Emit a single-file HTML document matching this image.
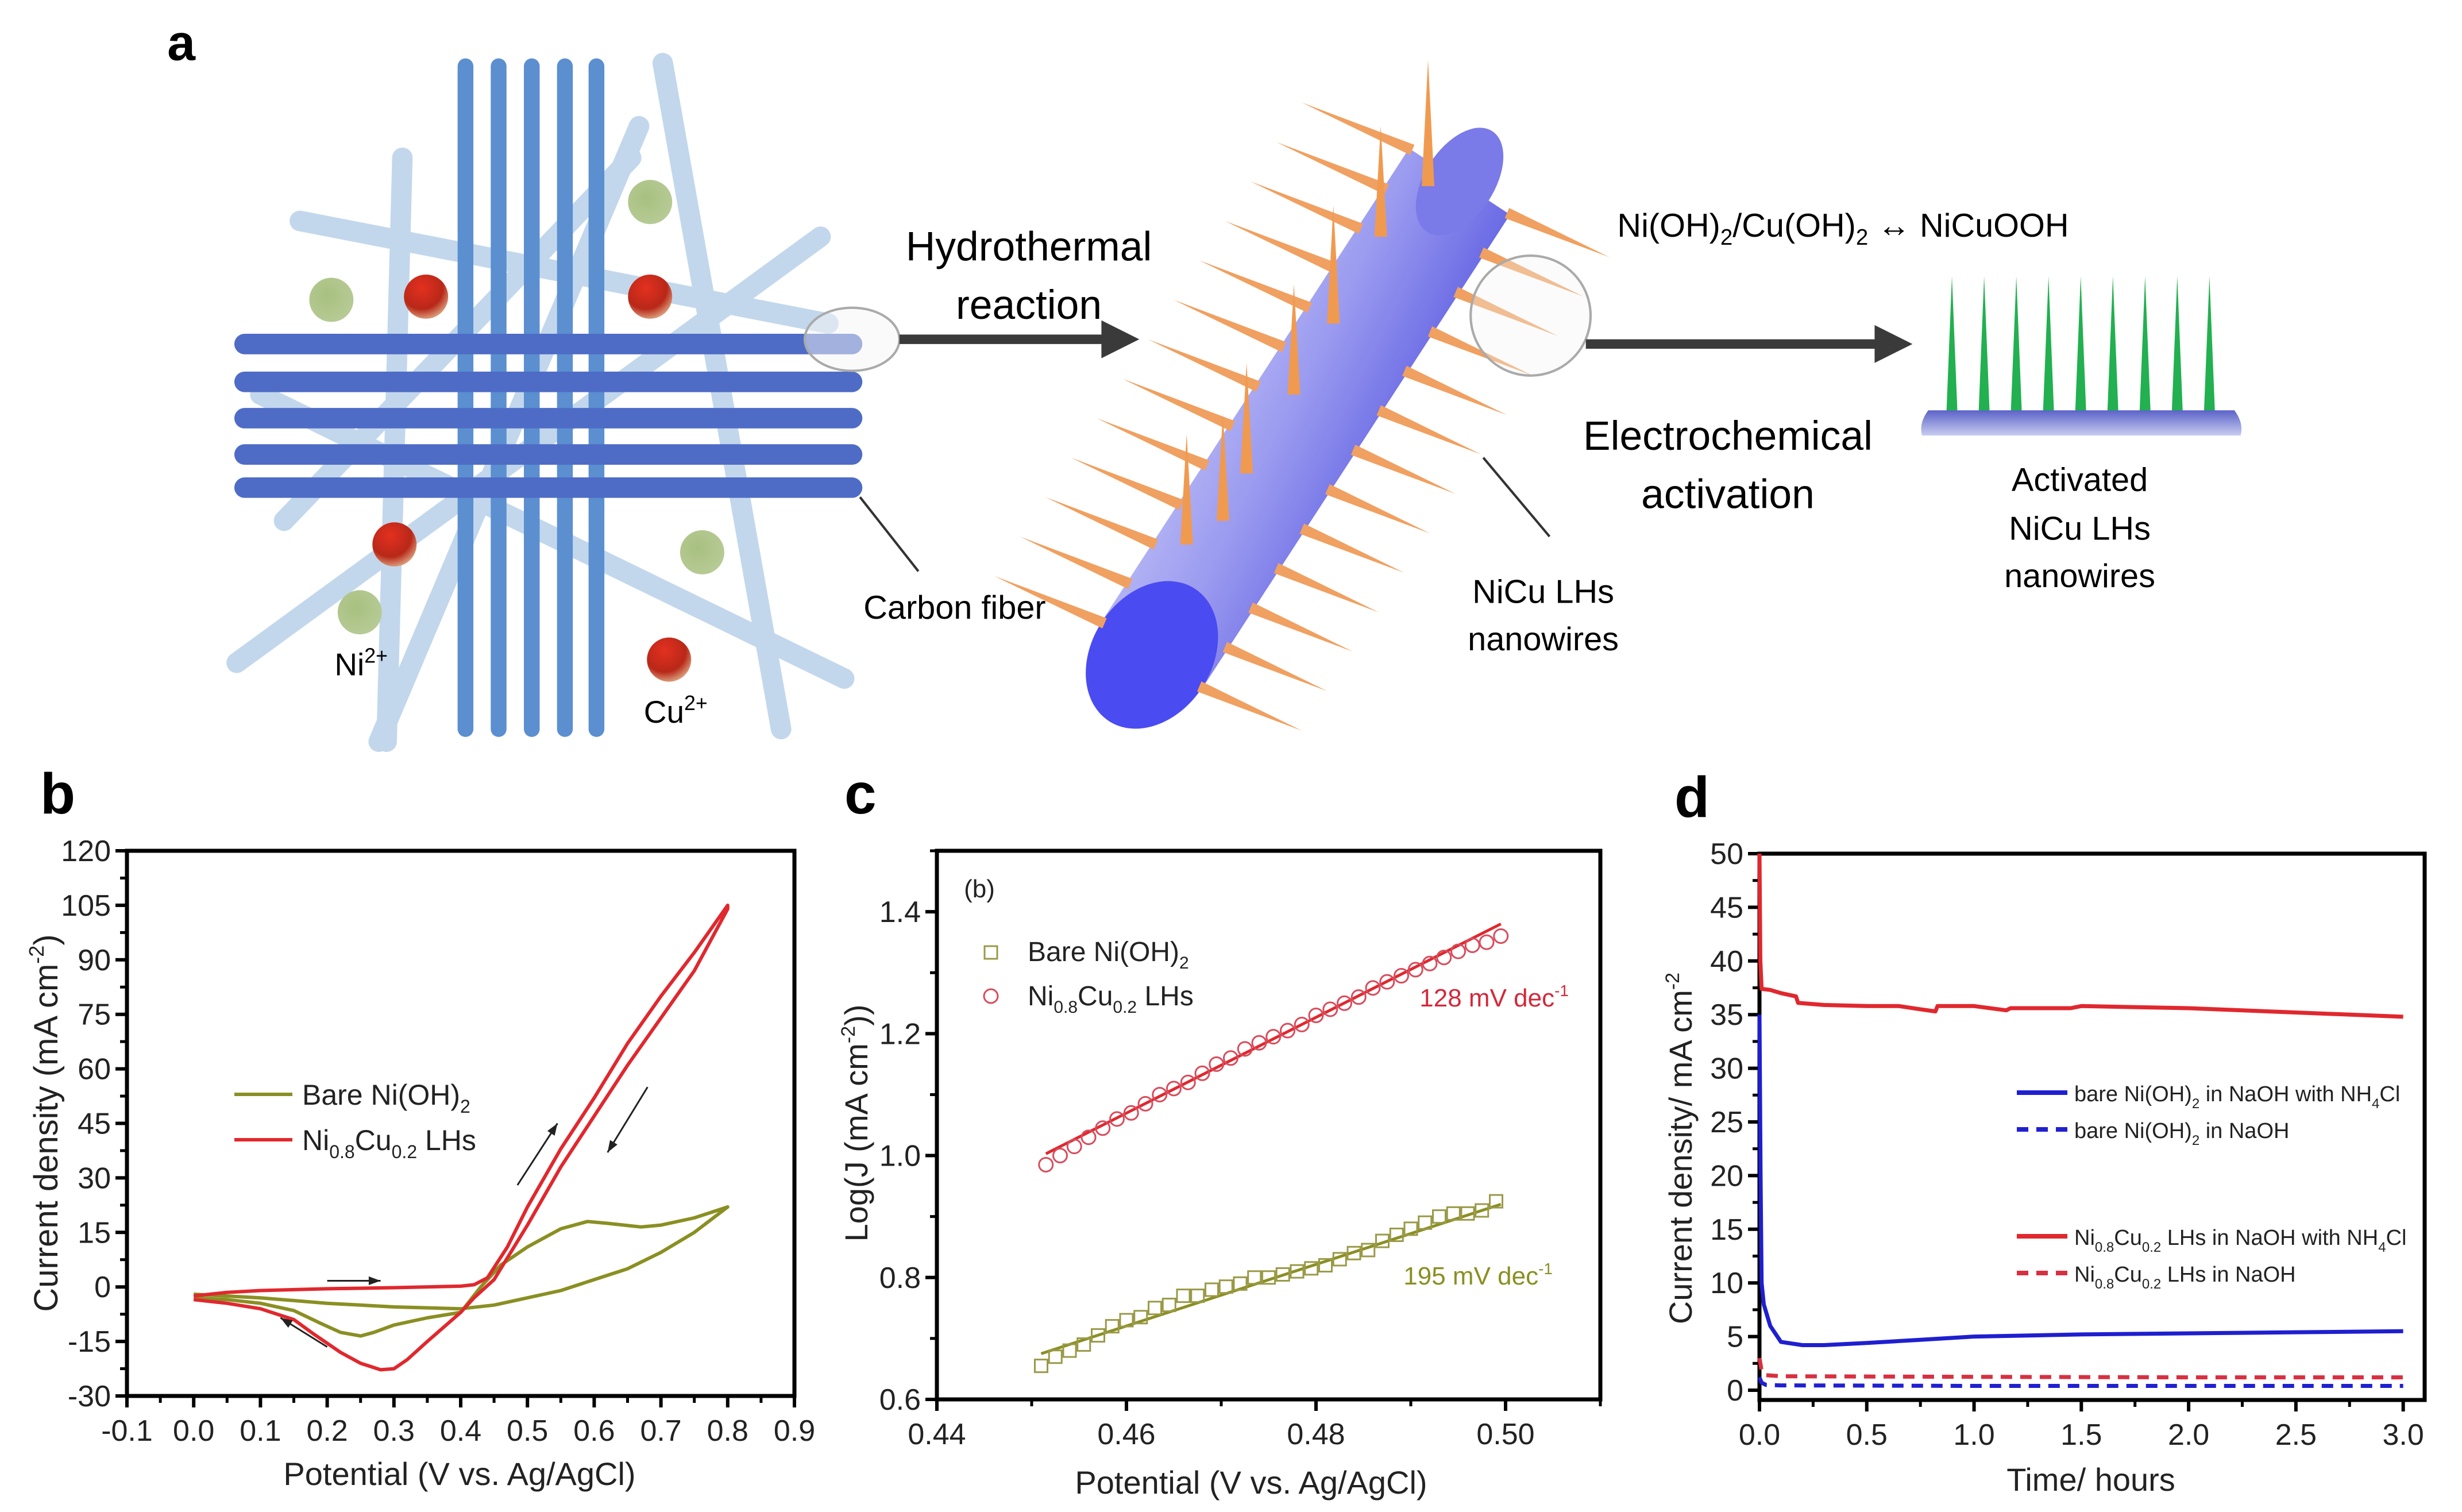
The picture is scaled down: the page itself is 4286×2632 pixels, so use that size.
<!DOCTYPE html>
<html><head><meta charset="utf-8"><style>
html,body{margin:0;padding:0;background:#fff;}
svg{display:block;font-family:"Liberation Sans",Arial,sans-serif;}
</style></head><body>
<svg id="fig" width="4286" height="2632" viewBox="0 0 4286 2632" xmlns="http://www.w3.org/2000/svg">
<defs>
<linearGradient id="cylGrad" x1="0" y1="0" x2="1" y2="0.65">
<stop offset="0" stop-color="#f4f4ff"/><stop offset="0.55" stop-color="#9a9af0"/><stop offset="1" stop-color="#3434d8"/>
</linearGradient>
<linearGradient id="baseGrad" x1="0" y1="0" x2="0" y2="1">
<stop offset="0" stop-color="#5b63c8"/><stop offset="1" stop-color="#c8ccf0"/>
</linearGradient>
<radialGradient id="redBall" cx="0.4" cy="0.3" r="0.8"><stop offset="0" stop-color="#e43020"/><stop offset="0.6" stop-color="#b82818"/><stop offset="1" stop-color="#e8c8a0"/></radialGradient>
<radialGradient id="greenBall" cx="0.4" cy="0.4" r="0.7"><stop offset="0" stop-color="#a8c080"/><stop offset="1" stop-color="#b8cc98"/></radialGradient>
</defs>
<rect width="4286" height="2632" fill="#fff"/>

<!-- PANEL A (display coords scaled) -->
<g id="panelA" transform="scale(2.747)">
<text x="106" y="38" font-size="32" font-weight="bold">a</text>
<g stroke="#bcd3ea" stroke-width="13" stroke-linecap="round" opacity="0.9">
<line x1="190" y1="140" x2="525" y2="205"/>
<line x1="255" y1="100" x2="245" y2="470"/>
<line x1="420" y1="40" x2="495" y2="462"/>
<line x1="150" y1="420" x2="520" y2="150"/>
<line x1="165" y1="250" x2="535" y2="430"/>
<line x1="240" y1="470" x2="405" y2="80"/>
<line x1="180" y1="330" x2="400" y2="100"/>
</g>
<g stroke="#5b8fd0" stroke-width="10" stroke-linecap="round">
<line x1="295" y1="42" x2="295" y2="462"/><line x1="316" y1="42" x2="316" y2="462"/><line x1="337" y1="42" x2="337" y2="462"/><line x1="358" y1="42" x2="358" y2="462"/><line x1="378" y1="42" x2="378" y2="462"/>
</g>
<g stroke="#4e6cc6" stroke-width="13" stroke-linecap="round">
<line x1="155" y1="218" x2="540" y2="218"/><line x1="155" y1="242" x2="540" y2="242"/><line x1="155" y1="265" x2="540" y2="265"/><line x1="155" y1="288" x2="540" y2="288"/><line x1="155" y1="309" x2="540" y2="309"/>
</g>
<g>
<circle cx="412" cy="128" r="14" fill="url(#greenBall)"/><circle cx="210" cy="190" r="14" fill="url(#greenBall)"/><circle cx="445" cy="350" r="14" fill="url(#greenBall)"/><circle cx="228" cy="388" r="14" fill="url(#greenBall)"/>
<circle cx="270" cy="188" r="14" fill="url(#redBall)"/><circle cx="412" cy="188" r="14" fill="url(#redBall)"/><circle cx="250" cy="345" r="14" fill="url(#redBall)"/><circle cx="424" cy="418" r="14" fill="url(#redBall)"/>
</g>
<text x="212" y="428" font-size="20">Ni<tspan dy="-8" font-size="13">2+</tspan></text>
<text x="408" y="458" font-size="20">Cu<tspan dy="-8" font-size="13">2+</tspan></text>
<ellipse cx="540" cy="215" rx="30" ry="20" fill="#f6f6f6" fill-opacity="0.5" stroke="#aaa" stroke-width="1.5"/>
<line x1="545" y1="315" x2="582" y2="362" stroke="#333" stroke-width="1.5"/>
<text x="605" y="392" font-size="21" text-anchor="middle">Carbon fiber</text>
<g><line x1="570" y1="215" x2="700" y2="215" stroke="#3a3a3a" stroke-width="6"/><polygon points="698,203 722,215 698,227" fill="#3a3a3a"/></g>
<text x="652" y="165" font-size="26" text-anchor="middle">Hydrothermal</text>
<text x="652" y="202" font-size="26" text-anchor="middle">reaction</text>
<g id="cylinder">
<polygon points="698,394 893,94 957,136 762,436" fill="url(#cylGrad)"/>
<ellipse cx="925" cy="115" rx="38" ry="22" transform="rotate(-57 925 115)" fill="#7a7ae8"/>
<ellipse cx="730" cy="415" rx="50" ry="38" transform="rotate(-57 730 415)" fill="#4b4bf2"/>
</g>
<g id="spikes"></g>
<ellipse cx="970" cy="200" rx="38" ry="38" fill="#f4f4f4" fill-opacity="0.35" stroke="#aaa" stroke-width="1.5"/>
<line x1="940" y1="290" x2="982" y2="340" stroke="#333" stroke-width="1.5"/>
<text x="978" y="382" font-size="21" text-anchor="middle">NiCu LHs</text>
<text x="978" y="412" font-size="21" text-anchor="middle">nanowires</text>
<g><line x1="1005" y1="218" x2="1190" y2="218" stroke="#3a3a3a" stroke-width="6"/><polygon points="1188,206 1212,218 1188,230" fill="#3a3a3a"/></g>
<text x="1168" y="150" font-size="21" text-anchor="middle">Ni(OH)<tspan dy="5" font-size="14">2</tspan><tspan dy="-5">/Cu(OH)</tspan><tspan dy="5" font-size="14">2</tspan><tspan dy="-5"> ↔ NiCuOOH</tspan></text>
<text x="1095" y="285" font-size="26" text-anchor="middle">Electrochemical</text>
<text x="1095" y="322" font-size="26" text-anchor="middle">activation</text>
<g id="greenWires"></g>
<path d="M1222,260 L1416,260 Q1422,268 1420,276 L1218,276 Q1216,268 1222,260 Z" fill="url(#baseGrad)"/>
<text x="1318" y="311" font-size="21" text-anchor="middle">Activated</text>
<text x="1318" y="342" font-size="21" text-anchor="middle">NiCu LHs</text>
<text x="1318" y="372" font-size="21" text-anchor="middle">nanowires</text>
</g>

<!-- PANEL B static text -->
<text x="70" y="1416" font-size="100" font-weight="bold">b</text>
<text x="800" y="2585" font-size="56" text-anchor="middle" fill="#222">Potential (V vs. Ag/AgCl)</text>
<text x="100" y="1955" font-size="58" text-anchor="middle" fill="#222" transform="rotate(-90 100 1955)">Current density (mA cm<tspan dy="-24" font-size="36">-2</tspan><tspan dy="24">)</tspan></text>
<text x="526" y="1923" font-size="50" fill="#222">Bare Ni(OH)<tspan dy="14" font-size="32">2</tspan></text>
<text x="526" y="2002" font-size="50" fill="#222">Ni<tspan dy="14" font-size="32">0.8</tspan><tspan dy="-14">Cu</tspan><tspan dy="14" font-size="32">0.2</tspan><tspan dy="-14"> LHs</tspan></text>

<!-- PANEL C static text -->
<text x="1470" y="1416" font-size="100" font-weight="bold">c</text>
<text x="2178" y="2600" font-size="56" text-anchor="middle" fill="#222">Potential (V vs. Ag/AgCl)</text>
<text x="1510" y="1955" font-size="56" text-anchor="middle" fill="#222" transform="rotate(-90 1510 1955)">Log(J (mA cm<tspan dy="-22" font-size="34">-2</tspan><tspan dy="22">))</tspan></text>
<text x="1705" y="1562" font-size="44" text-anchor="middle" fill="#222">(b)</text>
<text x="1789" y="1673" font-size="48" fill="#222">Bare Ni(OH)<tspan dy="13" font-size="30">2</tspan></text>
<text x="1789" y="1750" font-size="48" fill="#222">Ni<tspan dy="13" font-size="30">0.8</tspan><tspan dy="-13">Cu</tspan><tspan dy="13" font-size="30">0.2</tspan><tspan dy="-13"> LHs</tspan></text>
<text x="2731" y="1752" font-size="44" text-anchor="end" fill="#d4283a">128 mV dec<tspan dy="-18" font-size="28">-1</tspan></text>
<text x="2703" y="2236" font-size="44" text-anchor="end" fill="#8a8f22">195 mV dec<tspan dy="-18" font-size="28">-1</tspan></text>

<!-- PANEL D static text -->
<text x="2915" y="1422" font-size="100" font-weight="bold">d</text>
<text x="3640" y="2595" font-size="56" text-anchor="middle" fill="#222">Time/ hours</text>
<text x="2945" y="1999" font-size="56" text-anchor="middle" fill="#222" transform="rotate(-90 2945 1999)">Current density/ mA cm<tspan dy="-22" font-size="34">-2</tspan></text>
<text x="3611" y="1917" font-size="38" fill="#222">bare Ni(OH)<tspan dy="12" font-size="24">2</tspan><tspan dy="-12"> in NaOH with NH</tspan><tspan dy="12" font-size="24">4</tspan><tspan dy="-12">Cl</tspan></text>
<text x="3611" y="1981" font-size="38" fill="#222">bare Ni(OH)<tspan dy="12" font-size="24">2</tspan><tspan dy="-12"> in NaOH</tspan></text>
<text x="3611" y="2167" font-size="38" fill="#222">Ni<tspan dy="12" font-size="24">0.8</tspan><tspan dy="-12">Cu</tspan><tspan dy="12" font-size="24">0.2</tspan><tspan dy="-12"> LHs in NaOH with NH</tspan><tspan dy="12" font-size="24">4</tspan><tspan dy="-12">Cl</tspan></text>
<text x="3611" y="2231" font-size="38" fill="#222">Ni<tspan dy="12" font-size="24">0.8</tspan><tspan dy="-12">Cu</tspan><tspan dy="12" font-size="24">0.2</tspan><tspan dy="-12"> LHs in NaOH</tspan></text>
</svg>

<script>
// ---- Panel b data ----
const cvPotRed = [0,0.05,0.1,0.2,0.3,0.4,0.42,0.44,0.47,0.5,0.55,0.6,0.65,0.7,0.75,0.8,0.8,0.75,0.7,0.65,0.6,0.55,0.5,0.47,0.45,0.42,0.4,0.35,0.32,0.3,0.28,0.25,0.22,0.18,0.15,0.1,0.05,0];
const cvCurRed = [-2.5,-1.5,-1,-0.5,-0.2,0.2,0.6,2.5,11,22,38,52,67,80,92,105,104,87,74,61,47,33,17,8,2,-3,-7,-15,-20,-22.5,-22.8,-21,-18,-13,-9,-6,-4.5,-3.5];
const cvPotBare = [0,0.1,0.2,0.3,0.4,0.45,0.5,0.55,0.6,0.65,0.7,0.75,0.8,0.75,0.7,0.67,0.62,0.59,0.55,0.5,0.46,0.43,0.4,0.35,0.3,0.27,0.25,0.22,0.19,0.15,0.1,0.05,0];
const cvCurBare = [-2,-3,-4.5,-5.5,-6,-5,-3,-1,2,5,9.5,15,22,19,17,16.5,17.5,18,16,11,6,0,-7,-8.5,-10.5,-12.5,-13.5,-12.5,-10,-6.5,-4.5,-3.5,-3];
const bYTicks = [-30,-15,0,15,30,45,60,75,90,105,120];
const bXTicks = [-0.1,0,0.1,0.2,0.3,0.4,0.5,0.6,0.7,0.8,0.9];
const bXLabels = ["-0.1","0.0","0.1","0.2","0.3","0.4","0.5","0.6","0.7","0.8","0.9"];
// ---- Panel c data ----
const tafelPotRed = [0.4515,0.453,0.4545,0.456,0.4575,0.459,0.4605,0.462,0.4635,0.465,0.4665,0.468,0.4695,0.471,0.4725,0.474,0.4755,0.477,0.4785,0.48,0.4815,0.483,0.4845,0.486,0.4875,0.489,0.4905,0.492,0.4935,0.495,0.4965,0.498,0.4995];
const tafelLogRed = [0.985,1.0,1.015,1.03,1.045,1.06,1.07,1.085,1.1,1.11,1.12,1.135,1.15,1.16,1.175,1.185,1.195,1.205,1.215,1.23,1.24,1.25,1.26,1.275,1.285,1.295,1.305,1.315,1.325,1.335,1.345,1.35,1.36];
const tafelPotBare = [0.451,0.4525,0.454,0.4555,0.457,0.4585,0.46,0.4615,0.463,0.4645,0.466,0.4675,0.469,0.4705,0.472,0.4735,0.475,0.4765,0.478,0.4795,0.481,0.4825,0.484,0.4855,0.487,0.4885,0.49,0.4915,0.493,0.4945,0.496,0.4975,0.499];
const tafelLogBare = [0.655,0.67,0.68,0.69,0.705,0.72,0.73,0.735,0.75,0.755,0.77,0.77,0.78,0.785,0.79,0.8,0.8,0.805,0.81,0.815,0.82,0.83,0.84,0.845,0.86,0.87,0.88,0.89,0.9,0.905,0.905,0.91,0.925];
const fitRedX = [0.4515,0.4995], fitRedY = [1.003,1.38];
const fitBareX = [0.451,0.4995], fitBareY = [0.675,0.92];
const cYTicks = [0.6,0.8,1.0,1.2,1.4];
const cYLabels = ["0.6","0.8","1.0","1.2","1.4"];
const cXTicks = [0.44,0.46,0.48,0.50];
const cXLabels = ["0.44","0.46","0.48","0.50"];
// ---- Panel d data ----
const timeRed = [0,0.004,0.01,0.05,0.1,0.17,0.18,0.3,0.5,0.65,0.75,0.82,0.83,1.0,1.15,1.17,1.45,1.5,2.0,2.5,3.0];
const jRed = [50,40,37.4,37.3,37,36.7,36.1,35.9,35.8,35.8,35.5,35.3,35.8,35.8,35.4,35.6,35.6,35.8,35.6,35.2,34.8];
const timeBlue = [0,0.005,0.01,0.02,0.05,0.1,0.2,0.3,0.5,0.75,1.0,1.5,2.0,2.5,3.0];
const jBlue = [35,20,10,8,6,4.5,4.2,4.2,4.4,4.7,5.0,5.2,5.3,5.4,5.5];
const timeRedDash = [0,0.01,0.03,0.1,1.0,2.0,3.0];
const jRedDash = [3,1.8,1.4,1.3,1.25,1.2,1.2];
const timeBlueDash = [0,0.01,0.03,0.1,1.0,2.0,3.0];
const jBlueDash = [1.2,0.7,0.5,0.45,0.4,0.4,0.4];
const dYTicks = [0,5,10,15,20,25,30,35,40,45,50];
const dXTicks = [0,0.5,1.0,1.5,2.0,2.5,3.0];
const dXLabels = ["0.0","0.5","1.0","1.5","2.0","2.5","3.0"];

const NS = "http://www.w3.org/2000/svg";
const svg = document.getElementById('fig');
function mk(tag, attrs, parent){ const e=document.createElementNS(NS,tag); for(const k in attrs) e.setAttribute(k,attrs[k]); (parent||svg).appendChild(e); return e; }
function lin(d0,d1,r0,r1){ return v => r0+(v-d0)*(r1-r0)/(d1-d0); }

function axes(name, L,R,T,B, xmin,xmax,ymin,ymax, xt,xl,xminor, yt,yl,yminor){
  const sx=lin(xmin,xmax,L,R), sy=lin(ymin,ymax,B,T);
  const g=mk('g',{});
  
  
  const fr=mk('rect',{x:L,y:T,width:R-L,height:B-T,fill:'none',stroke:'#000','stroke-width':7},g);
  
  
  xt.forEach((v,i)=>{
    const t=mk('line',{x1:sx(v),x2:sx(v),y1:B,y2:B+20,stroke:'#000','stroke-width':6},g);
    
    
    const lb=mk('text',{x:sx(v),y:B+78,'text-anchor':'middle','font-size':52,fill:'#222'},g);
    
    
    lb.textContent=xl[i];
  });
  xminor.forEach(v=>{
    const t=mk('line',{x1:sx(v),x2:sx(v),y1:B,y2:B+12,stroke:'#000','stroke-width':5},g);
    
    
  });
  yt.forEach((v,i)=>{
    const t=mk('line',{x1:L-20,x2:L,y1:sy(v),y2:sy(v),stroke:'#000','stroke-width':6},g);
    
    
    const lb=mk('text',{x:L-28,y:sy(v)+18,'text-anchor':'end','font-size':52,fill:'#222'},g);
    
    
    lb.textContent=yl[i];
  });
  yminor.forEach(v=>{
    const t=mk('line',{x1:L-12,x2:L,y1:sy(v),y2:sy(v),stroke:'#000','stroke-width':5},g);
    
    
  });
  return {sx,sy};
}
function pathD(xs,ys,sx,sy){ return xs.map((x,i)=>(i?'L':'M')+sx(x).toFixed(1)+','+sy(ys[i]).toFixed(1)).join(''); }
function mids(a){ const r=[]; for(let i=0;i<a.length-1;i++) r.push((a[i]+a[i+1])/2); return r; }

// ---- Panel b ----
const B = axes('cv',221,1383,1481,2430,-0.1,0.9,-30,120,bXTicks,bXLabels,mids(bXTicks),bYTicks,bYTicks.map(String),mids(bYTicks));
const pBare=mk('path',{d:pathD(cvPotBare,cvCurBare,B.sx,B.sy),fill:'none',stroke:'#8a8f22','stroke-width':6,'stroke-linejoin':'round'});


const pRed=mk('path',{d:pathD(cvPotRed,cvCurRed,B.sx,B.sy),fill:'none',stroke:'#e0282e','stroke-width':6,'stroke-linejoin':'round'});


function arrow(x1,y1,x2,y2,name){
  const a=Math.atan2(y2-y1,x2-x1), h=22;
  const g=mk('g',{});
  
  
  mk('line',{x1,y1,x2,y2,stroke:'#222','stroke-width':3},g);
  mk('polygon',{points:`${x2},${y2} ${x2-h*Math.cos(a-0.35)},${y2-h*Math.sin(a-0.35)} ${x2-h*Math.cos(a+0.35)},${y2-h*Math.sin(a+0.35)}`,fill:'#222'},g);
}
arrow(B.sx(0.2),B.sy(1.7),B.sx(0.28),B.sy(1.7),'scan-arrow-forward');
arrow(B.sx(0.2),B.sy(-16.5),B.sx(0.13),B.sy(-8.5),'scan-arrow-reverse');
arrow(B.sx(0.485),B.sy(28),B.sx(0.545),B.sy(45),'scan-arrow-up');
arrow(B.sx(0.68),B.sy(55),B.sx(0.62),B.sy(37),'scan-arrow-down');
const lb1=mk('line',{x1:408,x2:509,y1:1905,y2:1905,stroke:'#8a8f22','stroke-width':6});


const lb2=mk('line',{x1:408,x2:509,y1:1984,y2:1984,stroke:'#e0282e','stroke-width':6});



// ---- Panel c ----
const C = axes('tafel',1631,2786,1481,2436,0.44,0.51,0.6,1.5,cXTicks,cXLabels,[0.45,0.47,0.49,0.51],cYTicks,cYLabels,[0.7,0.9,1.1,1.3,1.5]);
const fr=mk('path',{d:pathD(fitRedX,fitRedY,C.sx,C.sy),stroke:'#e0282e','stroke-width':5,fill:'none'});


const fb=mk('path',{d:pathD(fitBareX,fitBareY,C.sx,C.sy),stroke:'#8a8f22','stroke-width':5,fill:'none'});


tafelPotRed.forEach((x,i)=>{
  const c=mk('circle',{cx:C.sx(x),cy:C.sy(tafelLogRed[i]),r:12,fill:'none',stroke:'#d84c5c','stroke-width':3});
  
  
});
tafelPotBare.forEach((x,i)=>{
  const s=mk('rect',{x:C.sx(x)-11,y:C.sy(tafelLogBare[i])-11,width:22,height:22,fill:'none',stroke:'#9a9a48','stroke-width':3});
  
  
});
const lc1=mk('rect',{x:1714,y:1647,width:22,height:22,fill:'none',stroke:'#9a9a48','stroke-width':3});


const lc2=mk('circle',{cx:1725,cy:1734,r:12,fill:'none',stroke:'#d84c5c','stroke-width':3});



// ---- Panel d ----
const D = axes('stability',3063,4221,1486,2437,0,3.1,-0.91,50,dXTicks,dXLabels,[0.25,0.75,1.25,1.75,2.25,2.75],dYTicks,dYTicks.map(String),mids(dYTicks));
const dl=[[timeBlueDash,jBlueDash,'#2020d0','20,14','current-bare-naoh'],[timeRedDash,jRedDash,'#d83040','20,14','current-nicu-naoh'],[timeBlue,jBlue,'#1f1fd0','','current-bare-nh4cl'],[timeRed,jRed,'#e0282e','','current-nicu-nh4cl']];
dl.forEach(s=>{
  const p=mk('path',{d:pathD(s[0],s[1],D.sx,D.sy),fill:'none',stroke:s[2],'stroke-width':7,'stroke-dasharray':s[3]||'none','stroke-linejoin':'round'});
  
  
});
const legD=[[1902,'#1f1fd0',''],[1966,'#2020d0','20,14'],[2152,'#e0282e',''],[2216,'#d83040','20,14']];
legD.forEach(l=>{
  const e=mk('line',{x1:3511,x2:3599,y1:l[0],y2:l[0],stroke:l[1],'stroke-width':8,'stroke-dasharray':l[2]||'none'});
  
  
});

// ---- Panel a decorations ----
const spk=document.getElementById('spikes');
function spike(bx,by,tx,ty,w,col,parent){
  const dx=tx-bx, dy=ty-by, len=Math.hypot(dx,dy), nx=-dy/len*w/2, ny=dx/len*w/2;
  const p=mk('polygon',{points:`${bx+nx},${by+ny} ${tx},${ty} ${bx-nx},${by-ny}`,fill:col},parent);
  
  
}
for(let i=0;i<13;i++){
  const t=i/12, cx=730+195*t, cy=415-300*t;
  spike(cx-30,cy-20,cx-100,cy-50,7,'#f0a060',spk);
  spike(cx+30,cy+20,cx+95,cy+48,7,'#f0a060',spk);
}
[[905,118,905,38],[875,150,875,80],[845,205,845,130],[820,250,820,180],[790,300,790,230],[775,330,775,262],[752,345,752,275]].forEach(s=>spike(s[0],s[1],s[2],s[3],8,'#f09a50',spk));
const gw=document.getElementById('greenWires');
for(let i=0;i<9;i++){ const x=1237+i*20.4; spike(x,262,x,175,7,'#22b050',gw); }
</script>
</body></html>
